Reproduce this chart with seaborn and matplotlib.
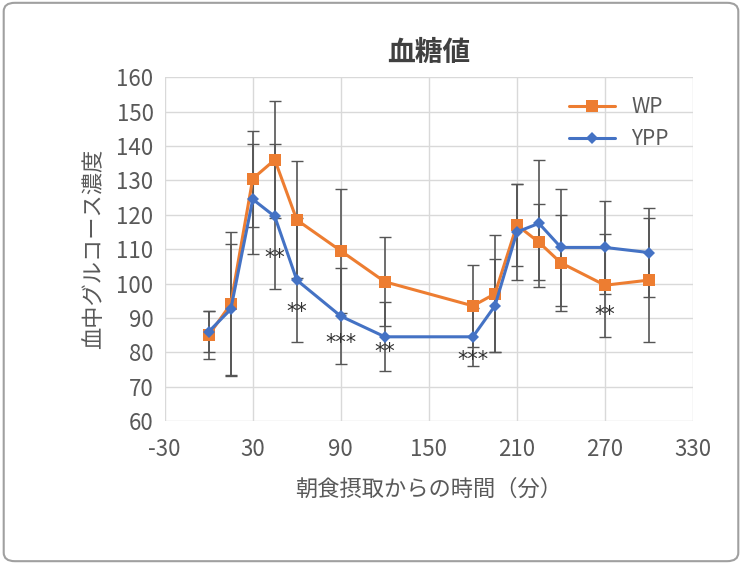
import matplotlib
matplotlib.use('Agg')
import matplotlib.pyplot as plt
import seaborn as sns
import pandas as pd
from matplotlib.patches import FancyBboxPatch

# ==== Data ====
times = [0, 15, 30, 45, 60, 90, 120, 180, 195, 210, 225, 240, 270, 300]
wp_mean = [85, 94, 130.5, 136, 118.5, 109.5, 100.5, 93.5, 97, 117, 112, 106, 99.5, 101]
wp_err = [7, 21, 14, 17, 17, 18, 13, 12, 17, 12, 11, 14, 15, 18]
ypp_mean = [86, 92.5, 124.5, 119.5, 101, 90.5, 84.5, 84.5, 93.5, 115, 117.5, 110.5, 110.5, 109]
ypp_err = [6, 19, 16, 21, 18, 14, 10, 8.5, 13.5, 14, 18.5, 17, 13.5, 13]
star_x = [45, 60, 90, 120, 180, 270]
star_y = [107.4, 91.7, 82.7, 80, 77.7, 90.8]
star_txt = ["**", "**", "***", "**", "***", "**"]

sns.set_theme(style="whitegrid")
plt.rcParams["font.family"] = ["Noto Sans CJK JP", "DejaVu Sans"]
plt.rcParams["axes.unicode_minus"] = False

wp = pd.DataFrame({"time": times, "value": wp_mean})
ypp = pd.DataFrame({"time": times, "value": ypp_mean})

fig = plt.figure(figsize=(7.42, 5.64), dpi=100)
ax = fig.add_axes([0.222, 0.2535, 0.712, 0.6095])

ax.errorbar(times, wp_mean, yerr=wp_err, fmt="none", ecolor="#555555", elinewidth=1.2, capsize=4, zorder=2)
ax.errorbar(times, ypp_mean, yerr=ypp_err, fmt="none", ecolor="#555555", elinewidth=1.2, capsize=4, zorder=2)
sns.lineplot(data=wp, x="time", y="value", color="#ED7D31", marker="s", markersize=9,
             markeredgewidth=0, linewidth=2.2, label="WP", ax=ax, zorder=3)
sns.lineplot(data=ypp, x="time", y="value", color="#4472C4", marker="D", markersize=6,
             markeredgewidth=0, linewidth=2.2, label="YPP", ax=ax, zorder=3)

for x, y, t in zip(star_x, star_y, star_txt):
    ax.text(x, y, t, ha="center", va="center", fontsize=15, color="#333333", zorder=4,
            family="DejaVu Sans")

ax.set_xlim(-30, 330)
ax.set_ylim(60, 160)
ax.set_xticks(range(-30, 331, 60))
ax.set_yticks(range(60, 161, 10))
ax.tick_params(labelsize=16, colors="#595959", length=0)
ax.tick_params(axis="x", pad=12)
ax.tick_params(axis="y", pad=8)
for s in ax.spines.values():
    s.set_visible(False)
ax.grid(color="#D9D9D9", linewidth=1)
ax.set_xlabel("朝食摂取からの時間（分）", fontsize=16, color="#595959", labelpad=12)
ax.set_ylabel("血中グルコース濃度", fontsize=16, color="#595959", labelpad=8)
ax.set_title("血糖値", fontsize=20, fontweight="bold", color="#404040", pad=12)

leg = ax.legend(loc="upper right", frameon=False, fontsize=15,
                bbox_to_anchor=(0.99, 1.0), handlelength=2.2)
for t in leg.get_texts():
    t.set_color("#595959")

fig.patches.append(FancyBboxPatch((0.005, 0.005), 0.99, 0.99, boxstyle="round,pad=0,rounding_size=0.015",
                                  transform=fig.transFigure, fill=False, edgecolor="#A0A0A0", linewidth=1.5))
fig.savefig("out.png", dpi=100)
